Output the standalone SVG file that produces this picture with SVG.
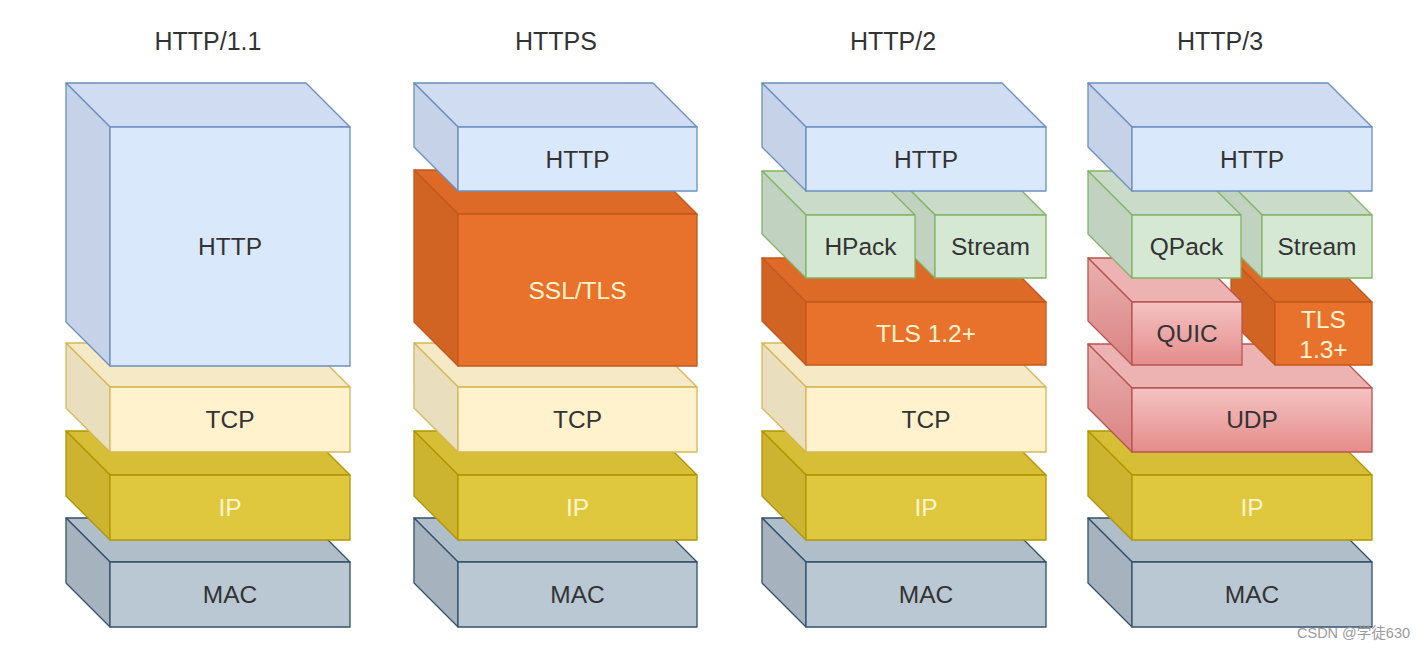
<svg xmlns="http://www.w3.org/2000/svg" width="1425" height="649" viewBox="0 0 1425 649">
<style>
text{font-family:"Liberation Sans",Arial,sans-serif;text-anchor:middle}
.title{font-size:25px;fill:#333333}
.lbl{font-size:24.5px;fill:#333333}
.lt{fill:#fff4cf}
polygon,rect{stroke-width:1.3;stroke-linejoin:round}
.b polygon,.b rect{stroke:#6c8ebf}.b .f{fill:#dae8fc}.b .t{fill:#cfdcf1}.b .s{fill:#c6d2e7}
.y polygon,.y rect{stroke:#d6b656}.y .f{fill:#fff2cc}.y .t{fill:#f5e9c6}.y .s{fill:#e9dfbf}
.i polygon,.i rect{stroke:#b09500}.i .f{fill:#dfc83d}.i .t{fill:#d6be36}.i .s{fill:#ccb431}
.m polygon,.m rect{stroke:#34506a}.m .f{fill:#bac8d3}.m .t{fill:#b0bec9}.m .s{fill:#a6b3be}
.o polygon,.o rect{stroke:#c2581d}.o .f{fill:#e8722c}.o .t{fill:#dd6a27}.o .s{fill:#d16323}
.g polygon,.g rect{stroke:#82b366}.g .f{fill:#d5e8d4}.g .t{fill:#cadcc9}.g .s{fill:#c1d2c0}
.r polygon,.r rect{stroke:#b85450}.r .f{fill:url(#rg)}.r .t{fill:#ecb3b2}.r .s{fill:url(#rgs)}
.wm{font-size:14.5px;fill:#9a9a9a;text-anchor:start;font-family:"Liberation Sans","Noto Sans CJK SC",sans-serif}
</style>
<defs>
<linearGradient id="rg" x1="0" y1="0" x2="0" y2="1"><stop offset="0" stop-color="#f4c3c2"/><stop offset="1" stop-color="#e58c8b"/></linearGradient>
<linearGradient id="rgs" x1="0" y1="0" x2="0" y2="1"><stop offset="0" stop-color="#e9b0af"/><stop offset="1" stop-color="#d98382"/></linearGradient>
</defs>
<rect width="1425" height="649" fill="#ffffff"/>

<g id="titles">
<text class="title" x="208" y="50">HTTP/1.1</text>
<text class="title" x="556" y="50">HTTPS</text>
<text class="title" x="893" y="50">HTTP/2</text>
<text class="title" x="1220" y="50">HTTP/3</text>
</g>

<!-- Stack 1 -->
<g id="s1-mac" class="m">
<polygon class="t" points="66,518 306,518 350,562 110,562"/>
<polygon class="s" points="66,518 110,562 110,627 66,583"/>
<rect class="f" x="110" y="562" width="240" height="65"/>
<text class="lbl" x="230" y="603">MAC</text>
</g>
<g id="s1-ip" class="i">
<polygon class="t" points="66,431 306,431 350,475 110,475"/>
<polygon class="s" points="66,431 110,475 110,540 66,496"/>
<rect class="f" x="110" y="475" width="240" height="65"/>
<text class="lbl lt" x="230" y="516">IP</text>
</g>
<g id="s1-tcp" class="y">
<polygon class="t" points="66,343 306,343 350,387 110,387"/>
<polygon class="s" points="66,343 110,387 110,452 66,408"/>
<rect class="f" x="110" y="387" width="240" height="65"/>
<text class="lbl" x="230" y="428">TCP</text>
</g>
<g id="s1-http" class="b">
<polygon class="t" points="66,83 306,83 350,127 110,127"/>
<polygon class="s" points="66,83 110,127 110,366 66,322"/>
<rect class="f" x="110" y="127" width="240" height="239"/>
<text class="lbl" x="230" y="255">HTTP</text>
</g>

<!-- Stack 2 -->
<g id="s2-mac" class="m">
<polygon class="t" points="414,518 653,518 697,562 458,562"/>
<polygon class="s" points="414,518 458,562 458,627 414,583"/>
<rect class="f" x="458" y="562" width="239" height="65"/>
<text class="lbl" x="577.5" y="603">MAC</text>
</g>
<g id="s2-ip" class="i">
<polygon class="t" points="414,431 653,431 697,475 458,475"/>
<polygon class="s" points="414,431 458,475 458,540 414,496"/>
<rect class="f" x="458" y="475" width="239" height="65"/>
<text class="lbl lt" x="577.5" y="516">IP</text>
</g>
<g id="s2-tcp" class="y">
<polygon class="t" points="414,343 653,343 697,387 458,387"/>
<polygon class="s" points="414,343 458,387 458,452 414,408"/>
<rect class="f" x="458" y="387" width="239" height="65"/>
<text class="lbl" x="577.5" y="428">TCP</text>
</g>
<g id="s2-ssl" class="o">
<polygon class="t" points="414,170 653,170 697,214 458,214"/>
<polygon class="s" points="414,170 458,214 458,366 414,322"/>
<rect class="f" x="458" y="214" width="239" height="152"/>
<text class="lbl lt" x="577.5" y="299">SSL/TLS</text>
</g>
<g id="s2-http" class="b">
<polygon class="t" points="414,83 653,83 697,127 458,127"/>
<polygon class="s" points="414,83 458,127 458,191 414,147"/>
<rect class="f" x="458" y="127" width="239" height="64"/>
<text class="lbl" x="577.5" y="168">HTTP</text>
</g>

<!-- Stack 3 -->
<g id="s3-mac" class="m">
<polygon class="t" points="762,518 1002,518 1046,562 806,562"/>
<polygon class="s" points="762,518 806,562 806,627 762,583"/>
<rect class="f" x="806" y="562" width="240" height="65"/>
<text class="lbl" x="926" y="603">MAC</text>
</g>
<g id="s3-ip" class="i">
<polygon class="t" points="762,431 1002,431 1046,475 806,475"/>
<polygon class="s" points="762,431 806,475 806,540 762,496"/>
<rect class="f" x="806" y="475" width="240" height="65"/>
<text class="lbl lt" x="926" y="516">IP</text>
</g>
<g id="s3-tcp" class="y">
<polygon class="t" points="762,343 1002,343 1046,387 806,387"/>
<polygon class="s" points="762,343 806,387 806,452 762,408"/>
<rect class="f" x="806" y="387" width="240" height="65"/>
<text class="lbl" x="926" y="428">TCP</text>
</g>
<g id="s3-tls" class="o">
<polygon class="t" points="762,258 1002,258 1046,302 806,302"/>
<polygon class="s" points="762,258 806,302 806,365 762,321"/>
<rect class="f" x="806" y="302" width="240" height="63"/>
<text class="lbl lt" x="926" y="342">TLS 1.2+</text>
</g>
<g id="s3-stream" class="g">
<polygon class="t" points="891,171 1002,171 1046,215 935,215"/>
<polygon class="s" points="891,171 935,215 935,278 891,234"/>
<rect class="f" x="935" y="215" width="111" height="63"/>
<text class="lbl" x="990.5" y="255">Stream</text>
</g>
<g id="s3-hpack" class="g">
<polygon class="t" points="762,171 871,171 915,215 806,215"/>
<polygon class="s" points="762,171 806,215 806,278 762,234"/>
<rect class="f" x="806" y="215" width="109" height="63"/>
<text class="lbl" x="860.5" y="255">HPack</text>
</g>
<g id="s3-http" class="b">
<polygon class="t" points="762,83 1002,83 1046,127 806,127"/>
<polygon class="s" points="762,83 806,127 806,191 762,147"/>
<rect class="f" x="806" y="127" width="240" height="64"/>
<text class="lbl" x="926" y="168">HTTP</text>
</g>

<!-- Stack 4 -->
<g id="s4-mac" class="m">
<polygon class="t" points="1088,518 1328,518 1372,562 1132,562"/>
<polygon class="s" points="1088,518 1132,562 1132,627 1088,583"/>
<rect class="f" x="1132" y="562" width="240" height="65"/>
<text class="lbl" x="1252" y="603">MAC</text>
</g>
<g id="s4-ip" class="i">
<polygon class="t" points="1088,431 1328,431 1372,475 1132,475"/>
<polygon class="s" points="1088,431 1132,475 1132,540 1088,496"/>
<rect class="f" x="1132" y="475" width="240" height="65"/>
<text class="lbl lt" x="1252" y="516">IP</text>
</g>
<g id="s4-udp" class="r">
<polygon class="t" points="1088,344 1328,344 1372,388 1132,388"/>
<polygon class="s" points="1088,344 1132,388 1132,452 1088,408"/>
<rect class="f" x="1132" y="388" width="240" height="64"/>
<text class="lbl" x="1252" y="428">UDP</text>
</g>
<g id="s4-tls" class="o">
<polygon class="t" points="1231,258 1328,258 1372,302 1275,302"/>
<polygon class="s" points="1231,258 1275,302 1275,365 1231,321"/>
<rect class="f" x="1275" y="302" width="97" height="63"/>
<text class="lbl lt" x="1323.5" y="328">TLS</text>
<text class="lbl lt" x="1323.5" y="358">1.3+</text>
</g>
<g id="s4-quic" class="r">
<polygon class="t" points="1088,258 1198,258 1242,302 1132,302"/>
<polygon class="s" points="1088,258 1132,302 1132,365 1088,321"/>
<rect class="f" x="1132" y="302" width="110" height="63"/>
<text class="lbl" x="1187" y="342">QUIC</text>
</g>
<g id="s4-stream" class="g">
<polygon class="t" points="1218,171 1328,171 1372,215 1262,215"/>
<polygon class="s" points="1218,171 1262,215 1262,278 1218,234"/>
<rect class="f" x="1262" y="215" width="110" height="63"/>
<text class="lbl" x="1317" y="255">Stream</text>
</g>
<g id="s4-qpack" class="g">
<polygon class="t" points="1088,171 1197,171 1241,215 1132,215"/>
<polygon class="s" points="1088,171 1132,215 1132,278 1088,234"/>
<rect class="f" x="1132" y="215" width="109" height="63"/>
<text class="lbl" x="1186.5" y="255">QPack</text>
</g>
<g id="s4-http" class="b">
<polygon class="t" points="1088,83 1328,83 1372,127 1132,127"/>
<polygon class="s" points="1088,83 1132,127 1132,191 1088,147"/>
<rect class="f" x="1132" y="127" width="240" height="64"/>
<text class="lbl" x="1252" y="168">HTTP</text>
</g>

<g id="connectors"/>

<text class="wm" x="1297" y="638">CSDN @学徒630</text>
</svg>
